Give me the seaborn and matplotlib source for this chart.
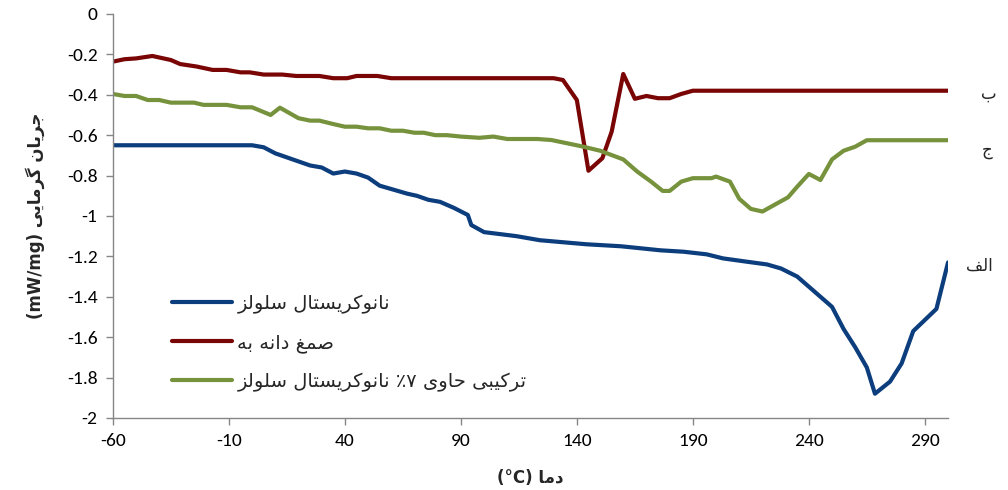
import numpy as np
import pandas as pd
import matplotlib
matplotlib.use("Agg")
import matplotlib.pyplot as plt
from matplotlib import font_manager
import seaborn as sns

# temperature (C) and heat flow (mW/mg)
temp_ncc = [-60, 0, 5, 10, 15, 20, 25, 30, 35, 40, 45, 50, 55, 61, 67, 71, 76, 81, 87, 93,
            94.5, 100, 107, 114, 124, 134, 144, 159, 165, 176, 186, 196, 203, 213, 222, 228,
            235, 244, 250, 255, 260, 265, 268.5, 275, 280, 285, 295, 300]
flow_ncc = [-0.65, -0.65, -0.66, -0.69, -0.71, -0.73, -0.75, -0.76, -0.79, -0.78, -0.79, -0.81,
            -0.85, -0.87, -0.89, -0.90, -0.92, -0.93, -0.96, -0.995, -1.045, -1.08, -1.09, -1.10,
            -1.12, -1.13, -1.14, -1.15, -1.157, -1.17, -1.177, -1.19, -1.21, -1.226, -1.24, -1.26,
            -1.30, -1.39, -1.45, -1.56, -1.65, -1.75, -1.88, -1.82, -1.73, -1.57, -1.46, -1.23]

temp_gum = [-60, -55, -50, -43, -35, -31, -24, -17, -11, -5, -1, 5, 13, 19, 29, 35, 41, 45, 54,
            60, 130, 134, 140, 145, 151, 155, 160, 165, 170, 175, 180, 185, 190, 300]
flow_gum = [-0.236, -0.224, -0.22, -0.208, -0.228, -0.248, -0.26, -0.277, -0.277, -0.289, -0.289,
            -0.30, -0.30, -0.307, -0.307, -0.318, -0.318, -0.307, -0.307, -0.318, -0.318, -0.327,
            -0.426, -0.776, -0.714, -0.583, -0.297, -0.42, -0.406, -0.417, -0.417, -0.396, -0.38,
            -0.38]

temp_mix = [-60, -55, -50, -45, -40, -35, -25, -21, -11, -5, 0, 8, 12, 20, 25, 29, 35, 40, 45,
            50, 55, 60, 65, 70, 74, 79, 84, 90, 98, 104, 110, 123, 129, 142, 150, 160, 166, 172,
            177, 180, 185, 190, 198, 200, 206, 210, 215, 220, 225, 231, 235, 240, 245, 250, 255,
            260, 265, 300]
flow_mix = [-0.396, -0.406, -0.406, -0.426, -0.426, -0.439, -0.439, -0.45, -0.45, -0.462, -0.462,
            -0.50, -0.464, -0.516, -0.528, -0.528, -0.545, -0.558, -0.558, -0.566, -0.566, -0.578,
            -0.578, -0.588, -0.588, -0.60, -0.60, -0.607, -0.613, -0.607, -0.619, -0.619, -0.624,
            -0.655, -0.677, -0.72, -0.78, -0.83, -0.876, -0.876, -0.83, -0.813, -0.813, -0.805,
            -0.83, -0.915, -0.965, -0.978, -0.946, -0.908, -0.855, -0.792, -0.822, -0.72, -0.677,
            -0.657, -0.625, -0.625]

legend_names = ["نانوکریستال سلولز", "صمغ دانه به", "ترکیبی حاوی ۷٪ نانوکریستال سلولز"]
end_tags = ["الف", "ب", "ج"]
colors = ["#0c3d7d", "#7a0505", "#76923c"]

x_ticks = [-60, -10, 40, 90, 140, 190, 240, 290]
y_ticks = [-2, -1.8, -1.6, -1.4, -1.2, -1, -0.8, -0.6, -0.4, -0.2, 0]

# --- minimal Persian shaping (matplotlib has no shaping / bidi) ---
FORMS = {
    "ا": (0xFE8D, 0xFE8E, None, None), "ب": (0xFE8F, 0xFE90, 0xFE91, 0xFE92),
    "ت": (0xFE95, 0xFE96, 0xFE97, 0xFE98), "ج": (0xFE9D, 0xFE9E, 0xFE9F, 0xFEA0),
    "ح": (0xFEA1, 0xFEA2, 0xFEA3, 0xFEA4), "د": (0xFEA9, 0xFEAA, None, None),
    "ر": (0xFEAD, 0xFEAE, None, None), "ز": (0xFEAF, 0xFEB0, None, None),
    "س": (0xFEB1, 0xFEB2, 0xFEB3, 0xFEB4), "ص": (0xFEB9, 0xFEBA, 0xFEBB, 0xFEBC),
    "غ": (0xFECD, 0xFECE, 0xFECF, 0xFED0), "ف": (0xFED1, 0xFED2, 0xFED3, 0xFED4),
    "ل": (0xFEDD, 0xFEDE, 0xFEDF, 0xFEE0), "م": (0xFEE1, 0xFEE2, 0xFEE3, 0xFEE4),
    "ن": (0xFEE5, 0xFEE6, 0xFEE7, 0xFEE8), "ه": (0xFEE9, 0xFEEA, 0xFEEB, 0xFEEC),
    "و": (0xFEED, 0xFEEE, None, None), "ک": (0xFB8E, 0xFB8F, 0xFB90, 0xFB91),
    "گ": (0xFB92, 0xFB93, 0xFB94, 0xFB95), "ی": (0xFBFC, 0xFBFD, 0xFBFE, 0xFBFF),
}


def shape_word(word):
    out = []
    for i, ch in enumerate(word):
        if ch not in FORMS:
            out.append(ch)
            continue
        prev = word[i - 1] if i > 0 else None
        nxt = word[i + 1] if i + 1 < len(word) else None
        join_prev = prev in FORMS and FORMS[prev][2] is not None
        join_next = FORMS[ch][2] is not None and nxt in FORMS
        iso, fin, ini, med = FORMS[ch]
        if join_prev and join_next:
            out.append(chr(med))
        elif join_prev:
            out.append(chr(fin))
        elif join_next:
            out.append(chr(ini))
        else:
            out.append(chr(iso))
    return "".join(out)[::-1]


def fa(text):
    # visual (left-to-right) order of a right-to-left phrase
    return " ".join(shape_word(w) for w in text.split(" ")[::-1])


# narrow Calibri-like face for the numbers if one is around
installed = {f.name for f in font_manager.fontManager.ttflist}
num_font = next((n for n in ["Liberation Sans Narrow", "Carlito", "Lato"] if n in installed),
                "DejaVu Sans")

sns.set_theme(style="ticks")
plt.rcParams["font.family"] = [num_font, "DejaVu Sans"]
plt.rcParams["axes.unicode_minus"] = False

fig = plt.figure(figsize=(10.08, 4.9), dpi=100)
ax = fig.add_axes([0.112, 0.147, 0.8285, 0.8245])

series = [(temp_ncc, flow_ncc), (temp_gum, flow_gum), (temp_mix, flow_mix)]
for (t, f), name, c in zip(series, legend_names, colors):
    df = pd.DataFrame({"temp": t, "flow": f})
    sns.lineplot(data=df, x="temp", y="flow", ax=ax, color=c, linewidth=3.0,
                 label=fa(name), estimator=None, sort=False)

offsets = [(13, -2), (24, -2), (24, -7)]
for (t, f), tag, off in zip(series, end_tags, offsets):
    ax.annotate(fa(tag), xy=(t[-1], f[-1]), xytext=off, textcoords="offset points",
                va="center", ha="left", fontsize=12, family=["DejaVu Sans"],
                annotation_clip=False)

ax.set_xlim(-60, 300)
ax.set_ylim(-2, 0)
ax.set_xticks(x_ticks)
ax.set_yticks(y_ticks)
ax.set_xticklabels([str(v) for v in x_ticks])
ax.set_yticklabels([f"{v:g}" for v in y_ticks])
ax.tick_params(axis="both", direction="out", length=5, width=1, color="#868686",
               labelsize=14, labelcolor="black", pad=6)
for side in ["top", "right"]:
    ax.spines[side].set_visible(False)
for side in ["left", "bottom"]:
    ax.spines[side].set_color("#868686")
    ax.spines[side].set_linewidth(1)

ax.set_xlabel("(°C) " + fa("دما"), fontsize=12, fontweight="bold",
              family=["DejaVu Sans"], labelpad=14)
ax.set_ylabel("(mW/mg) " + fa("جریان گرمایی"), fontsize=12, fontweight="bold",
              family=["DejaVu Sans"], labelpad=16)

leg = ax.legend(loc="upper left", bbox_to_anchor=(0.05, 0.35), frameon=False,
                handlelength=3.1, labelspacing=1.0, handletextpad=0.25,
                prop={"family": "DejaVu Sans", "size": 14})

fig.savefig("out.png", dpi=100)
